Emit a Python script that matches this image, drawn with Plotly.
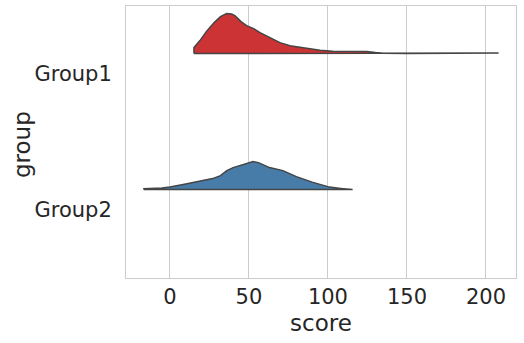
import plotly.graph_objects as go

groups = ["Group1", "Group2"]
colors = ["#cb3335", "#477ca8"]

# density estimates (relative units, peak of Group1 = 40)
g1_score = [15.2, 19, 23, 28, 32, 35.9, 39, 41.1, 45, 48.5, 53, 57, 63, 69.6, 77, 86.5, 95, 103, 115, 124.5, 130, 135, 150, 180, 200, 208]
g1_dens = [6, 13, 22, 31, 37, 40, 39.5, 38, 32, 28, 25, 21, 16, 11, 7.5, 5, 3.3, 2.4, 2.3, 2.2, 1.0, 0.3, 0.2, 0.2, 0.3, 0.5]
g2_score = [-16.5, -5, 0, 10, 20, 27, 32, 36, 40, 46, 52.6, 56, 60, 63, 71.5, 80, 90, 101, 108, 115.6]
g2_dens = [0.8, 1.5, 2.5, 5.5, 8.5, 11, 14, 19, 22, 25, 28, 27, 24, 22, 19, 13, 7.5, 2.5, 1.2, 0.5]

positions = [1, 0]
offset = 0.15
scale = 1 / 136.0

fig = go.Figure()
for name, pos, col, xs, ds in [("Group1", 1, colors[0], g1_score, g1_dens),
                                ("Group2", 0, colors[1], g2_score, g2_dens)]:
    base = pos + offset
    px = [xs[0]] + xs + [xs[-1], xs[0]]
    py = [base] + [base + d * scale for d in ds] + [base, base]
    fig.add_trace(go.Scatter(x=px, y=py, mode="lines", fill="toself",
                             fillcolor=col, line=dict(color="#454545", width=1.5),
                             showlegend=False, hoverinfo="skip"))

axis_common = dict(showline=True, linecolor="#cccccc", linewidth=1, mirror=True,
                   tickfont=dict(family="DejaVu Sans", size=21, color="#262626"),
                   ticks="", zeroline=False)
fig.update_layout(
    width=524, height=343,
    margin=dict(l=126, r=8, t=6, b=65),
    plot_bgcolor="white", paper_bgcolor="white",
    xaxis=dict(range=[-27.8, 219], tickvals=[0, 50, 100, 150, 200],
               showgrid=True, gridcolor="#cccccc", gridwidth=1,
               title=dict(text="score", font=dict(family="DejaVu Sans", size=23, color="#262626"), standoff=6),
               **axis_common),
    yaxis=dict(range=[-0.5, 1.5], tickvals=positions, ticktext=groups,
               showgrid=False, ticklabelstandoff=9,
               **axis_common),
    annotations=[dict(text="group", textangle=-90, xref="paper", yref="paper",
                      x=(22 - 126) / 390, y=(278 - 145) / 272, xanchor="center", yanchor="middle",
                      showarrow=False, font=dict(family="DejaVu Sans", size=23, color="#262626"))],
)
fig.write_html("out.html")
